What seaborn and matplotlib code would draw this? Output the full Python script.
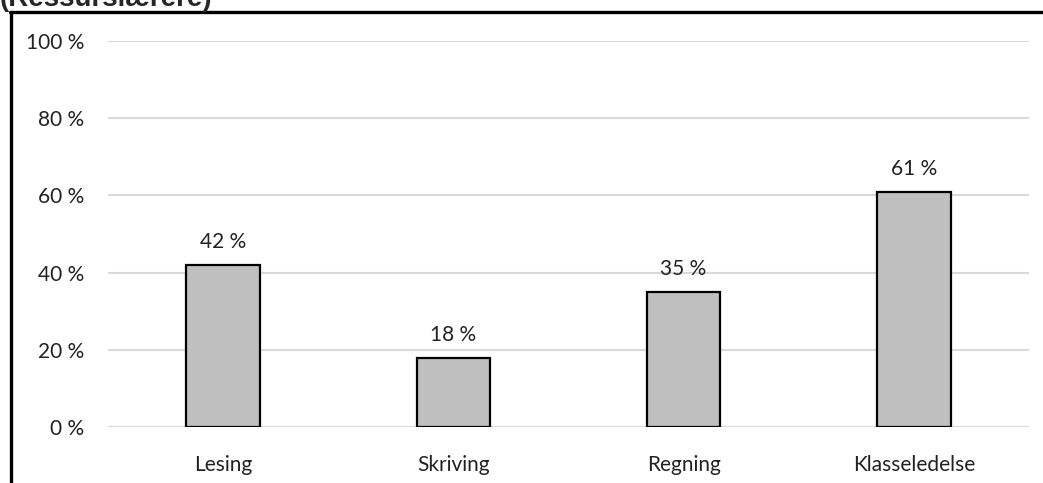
import matplotlib
matplotlib.use("Agg")
import matplotlib.pyplot as plt
from matplotlib.lines import Line2D
import seaborn as sns
import pandas as pd

# data
categories = ["Lesing", "Skriving", "Regning", "Klasseledelse"]
values = [42, 18, 35, 61]
y_ticks = [0, 20, 40, 60, 80, 100]
title = "(Ressurslærere)"

sns.set_theme(style="white")
plt.rcParams['font.family'] = ['Lato', 'DejaVu Sans']

W, H = 1043, 483
fig = plt.figure(figsize=(W / 100, H / 100), dpi=100)
ax = fig.add_axes([108 / W, 56 / H, (1029 - 108) / W, (427 - 41) / H])

df = pd.DataFrame({"kategori": categories, "andel": values})
sns.barplot(data=df, x="kategori", y="andel", ax=ax, width=0.32,
            color="#bfbfbf", saturation=1, edgecolor="black", linewidth=1.6,
            zorder=3)

for c in ax.containers:
    ax.bar_label(c, labels=[f"{v} %" for v in values], padding=9,
                 fontsize=15, color="#222222")

ax.set_ylim(0, 100)
ax.set_xlim(-0.5, len(categories) - 0.5)
ax.set_yticks(y_ticks)
ax.set_yticklabels([f"{t} %" for t in y_ticks])
ax.yaxis.grid(True, color="#d9d9d9", linewidth=1.5, zorder=0)
ax.xaxis.grid(False)
ax.set_axisbelow(True)
for s in ax.spines.values():
    s.set_visible(False)
ax.tick_params(axis="y", length=0, pad=17, labelsize=15, labelcolor="#222222")
ax.tick_params(axis="x", length=0, pad=20, labelsize=15, labelcolor="#222222")
ax.set_xlabel("")
ax.set_ylabel("")

# outer frame (cut off screenshot)
fig.add_artist(Line2D([11 / W, 11 / W], [0, 1 - 12 / H], transform=fig.transFigure,
                      color="black", linewidth=2.4))
fig.add_artist(Line2D([10 / W, 1], [1 - 12 / H, 1 - 12 / H], transform=fig.transFigure,
                      color="black", linewidth=2.4))
fig.text(0 / W, 1 - 6 / H, title, fontsize=20, fontweight="bold",
         family=["Liberation Sans", "DejaVu Sans"], va="baseline", ha="left")

fig.savefig("out.png", dpi=100)
